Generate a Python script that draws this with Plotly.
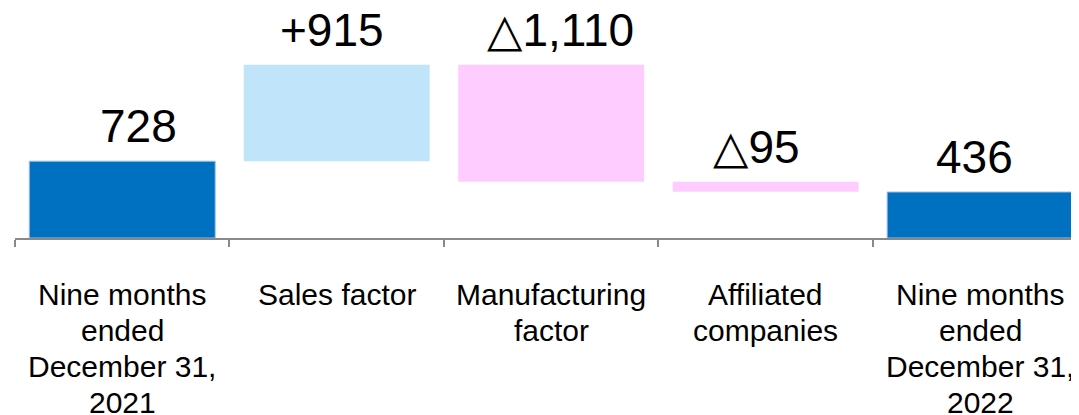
import plotly.graph_objects as go

categories = [
    "Nine months ended December 31, 2021",
    "Sales factor",
    "Manufacturing factor",
    "Affiliated companies",
    "Nine months ended December 31, 2022",
]
# how each category label is wrapped under the axis
category_lines = [
    ["Nine months", "ended", "December 31,", "2021"],
    ["Sales factor"],
    ["Manufacturing", "factor"],
    ["Affiliated", "companies"],
    ["Nine months", "ended", "December 31,", "2022"],
]
changes = [728, 915, -1110, -95, 436]
kinds = ["total", "change", "change", "change", "total"]
value_labels = ["728", "+915", "△1,110", "△95", "436"]

TOTAL_COLOR = "#0070C0"
UP_COLOR = "#C0E4FA"
DOWN_COLOR = "#FFCCFF"
FONT = "Liberation Sans, Arial, DejaVu Sans, sans-serif"
# labels in the source deck are not quite centred on their bars
label_nudge = [16, -5, 9, -9, -6]

# floating bar bases for the bridge
bases, heights, tops, colors = [], [], [], []
running = 0
for v, k in zip(changes, kinds):
    if k == "total":
        bases.append(0)
        heights.append(v)
        running = v
        tops.append(v)
        colors.append(TOTAL_COLOR)
    else:
        start = running
        running += v
        bases.append(min(start, running))
        heights.append(abs(v))
        tops.append(max(start, running))
        colors.append(UP_COLOR if v > 0 else DOWN_COLOR)

fig = go.Figure()
fig.add_trace(go.Bar(
    x=categories,
    y=heights,
    base=bases,
    width=0.867,
    marker=dict(color=colors, line=dict(width=[1, 0, 0, 0, 1], color="#9DC3E6")),
    hoverinfo="skip",
))

for cat, top, lbl, dx in zip(categories, tops, value_labels, label_nudge):
    fig.add_annotation(
        x=cat, y=top, text=lbl, showarrow=False,
        yanchor="bottom", yshift=7, xshift=dx,
        font=dict(size=46, color="#000000"),
    )

# category labels, one line at a time for tighter line spacing
for cat, lines in zip(categories, category_lines):
    for i, line in enumerate(lines):
        fig.add_annotation(
            x=cat, y=0, yref="paper", text=line, showarrow=False,
            yanchor="top", yshift=-38 - 36 * i,
            font=dict(size=30, color="#000000"),
        )

# page body has an 8px margin, so the figure is sized to end at the window edge
fig.update_layout(
    width=1071,
    height=407,
    paper_bgcolor="white",
    plot_bgcolor="white",
    font=dict(family=FONT, size=30, color="#000000"),
    margin=dict(t=0, b=177, l=7, r=0),
    showlegend=False,
    xaxis=dict(
        type="category",
        range=[-0.5, 4.461],
        showline=True,
        linecolor="#898989",
        linewidth=2,
        ticks="outside",
        tickson="boundaries",
        ticklen=7,
        tickwidth=2,
        tickcolor="#898989",
        showticklabels=False,
        showgrid=False,
        zeroline=False,
        automargin=False,
    ),
    yaxis=dict(
        range=[0, 2180],
        visible=False,
        showgrid=False,
        zeroline=False,
        automargin=False,
    ),
)

fig.write_html("out.html")
